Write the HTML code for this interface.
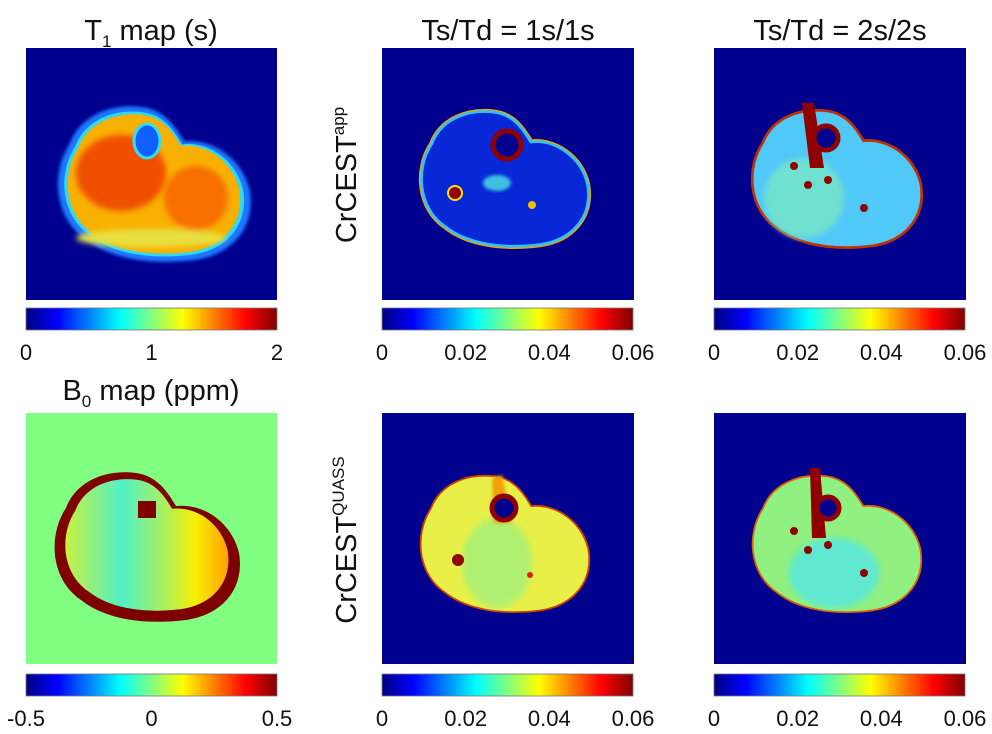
<!DOCTYPE html>
<html><head><meta charset="utf-8">
<style>
body{margin:0;background:#fff;width:992px;height:734px;overflow:hidden;font-family:"Liberation Sans",sans-serif}
svg{display:block}
text{font-family:"Liberation Sans",sans-serif;fill:#111}
</style></head><body>
<svg id="fig" width="992" height="734" viewBox="0 0 992 734">
<defs>
<linearGradient id="jet" x1="0" x2="1" y1="0" y2="0">
<stop offset="0" stop-color="#00007f"/><stop offset="0.125" stop-color="#0000ff"/>
<stop offset="0.375" stop-color="#00ffff"/><stop offset="0.5" stop-color="#80ff80"/><stop offset="0.625" stop-color="#ffff00"/>
<stop offset="0.875" stop-color="#ff0000"/><stop offset="1" stop-color="#7f0000"/>
</linearGradient>
<linearGradient id="b0grad" x1="0" x2="1" y1="0" y2="0">
<stop offset="0" stop-color="#c8f040"/><stop offset="0.35" stop-color="#50f0c8"/>
<stop offset="0.6" stop-color="#a8f060"/><stop offset="0.8" stop-color="#f8f000"/><stop offset="1" stop-color="#ffa000"/>
</linearGradient>
<path id="body" d="M40,95 C50,68 80,56 110,60 C132,63 142,80 150,93 C178,90 206,110 213,140 C219,176 196,202 160,207 C120,212 80,207 55,187 C24,166 22,122 40,95 Z"/>
<filter id="blur3"><feGaussianBlur stdDeviation="3"/></filter>
<filter id="blur2"><feGaussianBlur stdDeviation="1.5"/></filter>
</defs>

<!-- T1 map -->
<g transform="translate(26,48)">
<rect width="251" height="252" fill="#00008f"/>
<use href="#body" fill="#1e78ff" transform="translate(125,135) scale(1.04) translate(-118,-133)" filter="url(#blur2)"/>
<use href="#body" fill="#30d8f0" transform="translate(125,135) scale(0.97) translate(-118,-133)"/>
<use href="#body" fill="#f8b000" transform="translate(125,135) scale(0.93) translate(-118,-133)"/>
<g filter="url(#blur3)">
<ellipse cx="95" cy="125" rx="45" ry="38" fill="#f05000"/>
<ellipse cx="170" cy="150" rx="32" ry="32" fill="#f87000"/>
<ellipse cx="125" cy="190" rx="75" ry="9" fill="#e8e040"/>
</g>
<ellipse cx="121" cy="93" rx="13" ry="17" fill="#1060ff" stroke="#30e0f0" stroke-width="3"/>
</g>

<!-- B0 map -->
<g transform="translate(26,413)">
<rect width="251" height="251" fill="#80ff80"/>
<use href="#body" fill="#7f0000"/>
<use href="#body" fill="url(#b0grad)" transform="translate(118,131) scale(0.88) translate(-118,-133)"/>
<rect x="112" y="88" width="18" height="17" fill="#7f0000"/>
</g>

<!-- CrCEST app 1s -->
<g transform="translate(382,48)">
<rect width="252" height="252" fill="#00008f"/>
<g transform="translate(120,130) scale(0.9) translate(-118,-133)">
<use href="#body" fill="none" stroke="#f0a000" stroke-width="6"/>
<use href="#body" fill="#0828d8"/>
<use href="#body" fill="none" stroke="#30c0ff" stroke-width="3"/>
</g>
<circle cx="125" cy="97" r="14" fill="#00008f" stroke="#900000" stroke-width="5"/>
<circle cx="73" cy="145" r="7" fill="#900000" stroke="#ffe000" stroke-width="2"/>
<ellipse cx="115" cy="135" rx="14" ry="8" fill="#40c0e0" filter="url(#blur2)"/>
<circle cx="150" cy="157" r="4" fill="#f0c000"/>
</g>

<!-- CrCEST app 2s -->
<g transform="translate(714,48)">
<rect width="252" height="252" fill="#00008f"/>
<g transform="translate(120,130) scale(0.9) translate(-118,-133)">
<use href="#body" fill="none" stroke="#c03000" stroke-width="6"/>
<use href="#body" fill="#50c8f8"/>
</g>
<ellipse cx="90" cy="150" rx="40" ry="40" fill="#70e0d0" filter="url(#blur3)"/>
<path d="M88,55 L100,55 L110,120 L96,120 Z" fill="#900000"/>
<circle cx="112" cy="90" r="12" fill="#00008f" stroke="#900000" stroke-width="5"/>
<circle cx="80" cy="118" r="4" fill="#900000"/><circle cx="94" cy="137" r="4" fill="#900000"/>
<circle cx="114" cy="132" r="4" fill="#900000"/><circle cx="150" cy="160" r="4" fill="#900000"/>
</g>

<!-- CrCEST QUASS 1s -->
<g transform="translate(382,413)">
<rect width="252" height="251" fill="#00008f"/>
<g transform="translate(120,130) scale(0.9) translate(-118,-133)">
<use href="#body" fill="none" stroke="#d04000" stroke-width="4"/>
<use href="#body" fill="#e8f048"/>
</g>
<ellipse cx="115" cy="150" rx="35" ry="45" fill="#b0f070" filter="url(#blur3)"/>
<path d="M110,65 L120,62 L130,110 L112,110 Z" fill="#f0a000" filter="url(#blur2)"/>
<circle cx="122" cy="95" r="12" fill="#00008f" stroke="#900000" stroke-width="5"/>
<circle cx="76" cy="147" r="6" fill="#900000"/>
<circle cx="148" cy="162" r="3" fill="#e02000"/>
</g>

<!-- CrCEST QUASS 2s -->
<g transform="translate(714,413)">
<rect width="252" height="251" fill="#00008f"/>
<g transform="translate(120,130) scale(0.9) translate(-118,-133)">
<use href="#body" fill="none" stroke="#e06000" stroke-width="4"/>
<use href="#body" fill="#90f080"/>
</g>
<ellipse cx="120" cy="160" rx="45" ry="35" fill="#60e8d0" filter="url(#blur3)"/>
<path d="M96,55 L106,55 L112,125 L98,125 Z" fill="#900000"/>
<circle cx="114" cy="95" r="11" fill="#00008f" stroke="#900000" stroke-width="5"/>
<circle cx="80" cy="118" r="4" fill="#900000"/><circle cx="94" cy="137" r="4" fill="#900000"/>
<circle cx="114" cy="132" r="4" fill="#900000"/><circle cx="150" cy="160" r="4" fill="#900000"/>
</g>

<!-- Titles -->
<text x="151" y="40" font-size="29" text-anchor="middle">T<tspan font-size="17" dy="7">1</tspan><tspan dy="-7"> map (s)</tspan></text>
<text x="151" y="400" font-size="29" text-anchor="middle">B<tspan font-size="17" dy="7">0</tspan><tspan dy="-7"> map (ppm)</tspan></text>
<text x="508" y="40" font-size="29" text-anchor="middle">Ts/Td = 1s/1s</text>
<text x="840" y="40" font-size="29" text-anchor="middle">Ts/Td = 2s/2s</text>
<text transform="translate(356,175) rotate(-90)" font-size="29" text-anchor="middle">CrCEST<tspan font-size="17" dy="-12">app</tspan></text>
<text transform="translate(356,540) rotate(-90)" font-size="29" text-anchor="middle">CrCEST<tspan font-size="17" dy="-12">QUASS</tspan></text>
<g id="cbars"></g>
</svg>
<script>
const cbX = [26, 382, 714, 26, 382, 714];
const cbY = [308, 308, 308, 674, 674, 674];
const t1Ticks = [0, 1, 2];
const b0Ticks = [-0.5, 0, 0.5];
const cestTicks = [0, 0.02, 0.04, 0.06];
const cbTicks = [t1Ticks, cestTicks, cestTicks, b0Ticks, cestTicks, cestTicks];
const cbNames = ['t1', 'app-1s', 'app-2s', 'b0', 'quass-1s', 'quass-2s'];
const NS = 'http://www.w3.org/2000/svg';
const g = document.getElementById('cbars');
const W = 251, H = 22;
for (let i = 0; i < cbX.length; i++) {
  const ticks = cbTicks[i];
  const lo = ticks[0], hi = ticks[ticks.length - 1];
  const sx = v => cbX[i] + (v - lo) / (hi - lo) * W;
  const r = document.createElementNS(NS, 'rect');
  
  
  r.setAttribute('x', cbX[i]); r.setAttribute('y', cbY[i]);
  r.setAttribute('width', W); r.setAttribute('height', H);
  r.setAttribute('fill', 'url(#jet)'); r.setAttribute('stroke', '#777'); r.setAttribute('stroke-width', '0.8');
  g.appendChild(r);
  ticks.forEach(v => {
    const t = document.createElementNS(NS, 'text');
    
    
    t.setAttribute('x', sx(v)); t.setAttribute('y', cbY[i] + 52);
    t.setAttribute('font-size', '22'); t.setAttribute('text-anchor', 'middle');
    t.textContent = String(v);
    g.appendChild(t);
  });
}
</script>
</body></html>
